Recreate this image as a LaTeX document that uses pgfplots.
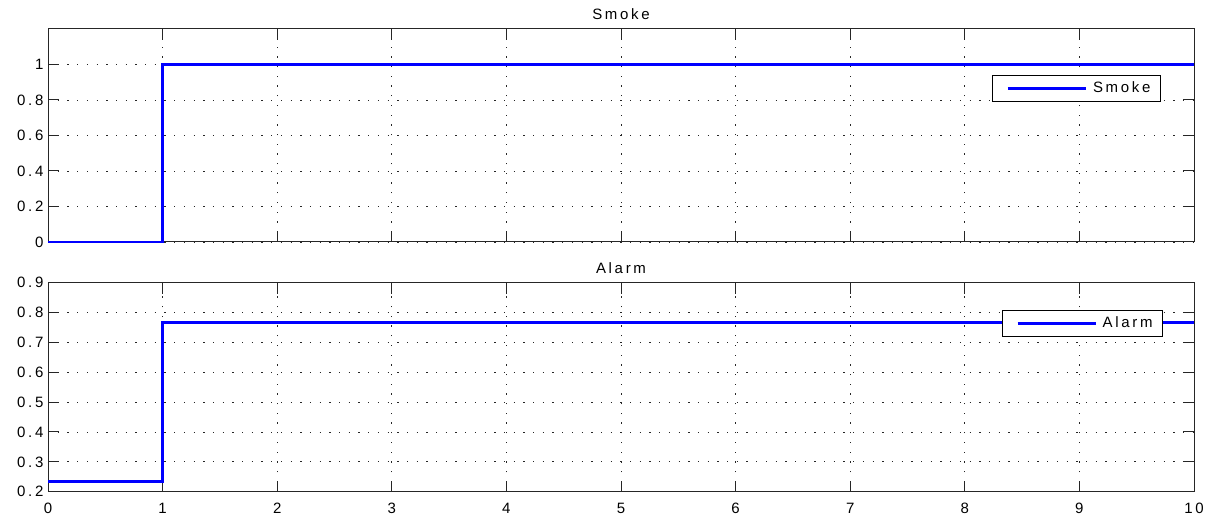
\documentclass[border=0pt]{standalone}
\usepackage{pgfplots}
\pgfplotsset{compat=1.18}
\usepackage{fontspec}
\setmainfont{Liberation Sans}[LetterSpace=18]
\begin{document}
\begin{tikzpicture}
\path[use as bounding box] (0pt,0pt) rectangle (1213pt,516pt);
\pgfplotsset{
  every axis/.style={
    scale only axis,
    width=1146pt,
    xmin=0, xmax=10,
    xtick={0,1,...,10},
    grid=major,
    clip=false,
    major grid style={black!85, line width=0.9pt, dash pattern=on 1.3pt off 8.4pt},
    axis line style={black!85, line width=1pt},
    tick style={black!85, line width=1pt},
    major tick length=11pt,
    tick align=inside,
    ticklabel style={font=\fontsize{15}{17}\selectfont},
    xticklabel style={yshift=-8pt},
    /pgf/number format/assume math mode=true,
    yticklabel style={/pgf/number format/fixed, /pgf/number format/precision=1, xshift=-1pt},
    title style={font=\fontsize{15}{17}\selectfont, anchor=base, at={(0.5,1)}, yshift=3pt},
    legend cell align=left,
    legend style={draw=black, line width=1pt, font=\fontsize{15}{17}\selectfont, inner xsep=8pt, inner ysep=4pt, anchor=north east,
      nodes={text height=11pt, text depth=3pt},
      /tikz/every odd column/.style={column sep=4pt}},
    legend image code/.code={\path (0pt,0pt); \draw[#1, line width=2.2pt] (6pt,0pt) -- (84pt,0pt);},
  },
}
\begin{axis}[
  at={(48pt,274pt)}, anchor=south west,
  height=213pt,
  ymin=0, ymax=1.2,
  ytick={0,0.2,...,1},
  xticklabels={},
  title={Smoke},
  legend style={at={(rel axis cs:0.9712,0.784)}},
]
\addplot[blue, line width=2.8pt] coordinates {(0,0) (1,0) (1,1) (10,1)};
\addlegendentry{Smoke}
\end{axis}
\begin{axis}[
  at={(48pt,24.3pt)}, anchor=south west,
  height=209pt,
  ymin=0.2, ymax=0.9,
  ytick={0.2,0.3,...,0.9},
  title={Alarm},
  legend style={at={(rel axis cs:0.973,0.869)}},
]
\addplot[blue, line width=2.8pt] coordinates {(0,0.2333) (1,0.2333) (1,0.7667) (10,0.7667)};
\addlegendentry{Alarm}
\end{axis}
\end{tikzpicture}
\end{document}
